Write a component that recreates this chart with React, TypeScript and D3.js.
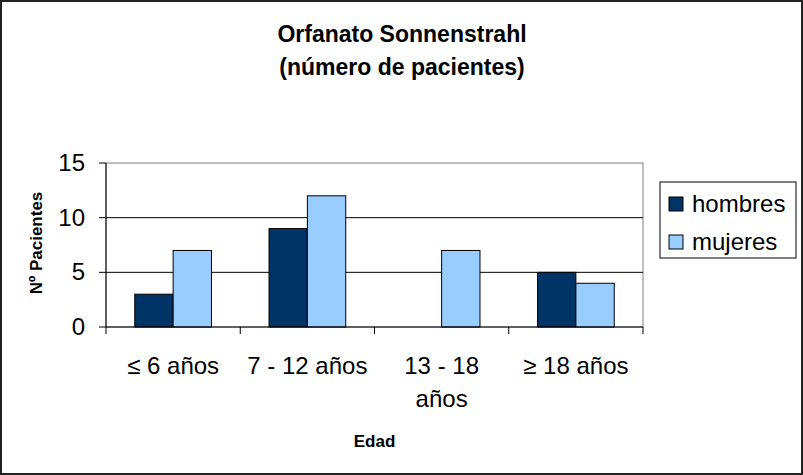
import React from 'react';
import * as d3 from 'd3';

// chart data
const categories = ['≤ 6 años', '7 - 12 años', '13 - 18 años', '≥ 18 años'];
const categoryLines = [['≤ 6 años'], ['7 - 12 años'], ['13 - 18', 'años'], ['≥ 18 años']];
const seriesNames = ['hombres', 'mujeres'];
const hombres = [3, 9, 0, 5];
const mujeres = [7, 12, 7, 4];
const yTicks = [0, 5, 10, 15];
const colors = ['#003366', '#99CCFF'];

const width = 803;
const height = 475;
const plot = { left: 106, right: 643, top: 163, bottom: 327 };
const font = 'Arial, "Liberation Sans", sans-serif';

const App = () => {
  const x = d3.scaleBand().domain(categories).range([plot.left, plot.right]).paddingInner(0).paddingOuter(0);
  // Excel gap width 150% -> each bar is band / 3.5
  const barW = x.bandwidth() / 3.5;
  const xs = d3.scaleBand().domain(seriesNames).range([0, barW * 2]);
  const y = d3.scaleLinear().domain([0, 15]).range([plot.bottom, plot.top]);
  const series = [hombres, mujeres];

  const ticksX = [...categories.map(c => x(c) as number), plot.right];

  return (
    <svg width={width} height={height} style={{ position: 'absolute', left: 0, top: 0, background: '#fff' }} fontFamily={font}>
      <rect x={1} y={1} width={width - 2} height={height - 2} fill="#fff" stroke="#222" strokeWidth={2} />

      <text x={402} y={42} textAnchor="middle" fontSize={23} fontWeight="bold">Orfanato Sonnenstrahl</text>
      <text x={402} y={75} textAnchor="middle" fontSize={23} fontWeight="bold">(número de pacientes)</text>

      {/* plot area border */}
      <rect x={plot.left} y={plot.top} width={plot.right - plot.left} height={plot.bottom - plot.top} fill="#fff" stroke="#808080" strokeWidth={1} />

      {/* gridlines */}
      {yTicks.filter(t => t > 0 && t < 15).map(t => (
        <line key={t} x1={plot.left} x2={plot.right} y1={y(t)} y2={y(t)} stroke="#000" strokeWidth={1} />
      ))}

      {/* bars */}
      {categories.map((c, i) => (
        <g key={c} transform={`translate(${(x(c) as number) + (x.bandwidth() - barW * 2) / 2},0)`}>
          {series.map((s, j) => (
            s[i] > 0 ? (
              <rect key={j} x={xs(seriesNames[j])} y={y(s[i])} width={xs.bandwidth()} height={y(0) - y(s[i])}
                fill={colors[j]} stroke="#000" strokeWidth={1} />
            ) : null
          ))}
        </g>
      ))}

      {/* axes */}
      <line x1={plot.left} x2={plot.left} y1={plot.top} y2={plot.bottom} stroke="#000" />
      <line x1={plot.left} x2={plot.right} y1={plot.bottom} y2={plot.bottom} stroke="#000" />
      {yTicks.map(t => (
        <g key={t}>
          <line x1={plot.left - 7} x2={plot.left} y1={y(t)} y2={y(t)} stroke="#000" />
          <text x={85} y={y(t) + 8} textAnchor="end" fontSize={24}>{t}</text>
        </g>
      ))}
      {ticksX.map((t, i) => (
        <line key={i} x1={t} x2={t} y1={plot.bottom} y2={plot.bottom + 7} stroke="#000" />
      ))}
      {categories.map((c, i) => (
        <text key={c} x={(x(c) as number) + x.bandwidth() / 2} y={374} textAnchor="middle" fontSize={24}>
          {categoryLines[i].map((l, k) => (
            <tspan key={k} x={(x(c) as number) + x.bandwidth() / 2} dy={k === 0 ? 0 : 33}>{l}</tspan>
          ))}
        </text>
      ))}

      <text x={(plot.left + plot.right) / 2} y={447} textAnchor="middle" fontSize={17} fontWeight="bold">Edad</text>
      <text transform={`translate(42,${(plot.top + plot.bottom) / 2 - 2}) rotate(-90)`} textAnchor="middle" fontSize={17} fontWeight="bold">Nº Pacientes</text>

      {/* legend */}
      <rect x={660} y={182} width={136} height={76} fill="#fff" stroke="#000" strokeWidth={1} />
      {seriesNames.map((n, i) => (
        <g key={n} transform={`translate(669,${197 + i * 38})`}>
          <rect x={0} y={0} width={14} height={14} fill={colors[i]} stroke="#000" strokeWidth={1} />
          <text x={23} y={15} fontSize={24}>{n}</text>
        </g>
      ))}
    </svg>
  );
};

export default App;
